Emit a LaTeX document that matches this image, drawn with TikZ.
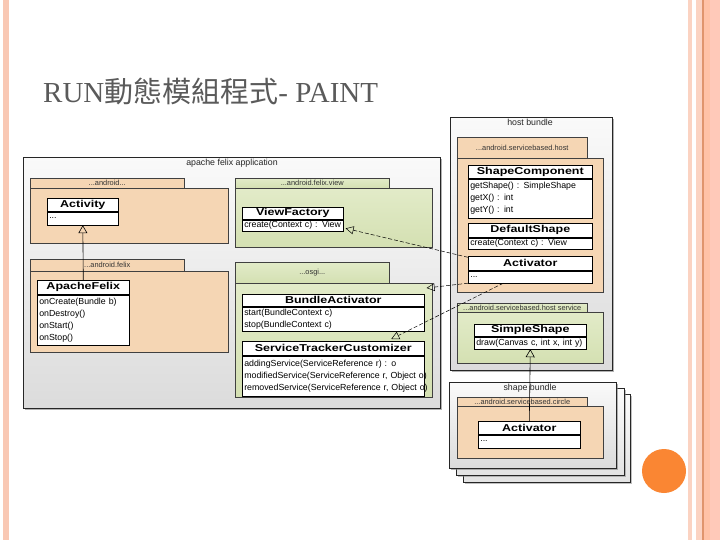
\documentclass[tikz,border=0pt]{standalone}
\usepackage{fontspec}
\setmainfont{Liberation Sans}
\newfontfamily\titlefont{Liberation Serif}
\newfontfamily\cjkfont{Noto Sans CJK TC}
\usetikzlibrary{arrows.meta,shadows,calc}
\definecolor{peach}{HTML}{F5D6B4}
\definecolor{sagetop}{HTML}{E2EBC8}
\definecolor{sagebot}{HTML}{D4E0B2}
\definecolor{titlegray}{HTML}{5A5A5A}
\definecolor{stripeA}{HTML}{F9C8B4}
\definecolor{stripeB}{HTML}{FBD3C2}
\definecolor{stripeC}{HTML}{FFC2A6}
\definecolor{stripeD}{HTML}{FFC9B9}
\definecolor{stripeLine}{HTML}{E0956C}
\definecolor{dotorange}{HTML}{FA8633}
\newcommand\cn[1]{\scalebox{1.25}[1]{\bfseries #1}}
\begin{document}
\begin{tikzpicture}[x=1pt,y=-1pt,
  grpbox/.style={draw=black!85, line width=0.6pt, top color=gray!4, bottom color=gray!28,
    anchor=north west, inner sep=0pt,
    drop shadow={shadow xshift=1.5pt, shadow yshift=-1.5pt, opacity=0.6}},
  stackbox/.style={draw=black!85, line width=0.6pt, top color=gray!3, bottom color=gray!22,
    anchor=north west, inner sep=0pt,
    drop shadow={shadow xshift=1.5pt, shadow yshift=-1.5pt, opacity=0.5}},
  opkg/.style={draw=black!75, line width=0.5pt, fill=peach, anchor=north west, inner sep=0pt,
    font=\fontsize{7.4}{7.4}\selectfont, text=black!80},
  gpkg/.style={draw=black!75, line width=0.5pt, top color=sagetop, bottom color=sagebot,
    anchor=north west, inner sep=0pt, font=\fontsize{7.4}{7.4}\selectfont, text=black!80},
  hdr/.style={draw=black, fill=white, line width=0.6pt, inner sep=0pt, anchor=north west,
    font=\fontsize{10}{10}\selectfont},
  bdy/.style={draw=black, fill=white, line width=0.6pt, inner xsep=2pt, inner ysep=0.5pt,
    anchor=north west, align=left, font=\fontsize{8.8}{12}\selectfont},
  lbl/.style={font=\fontsize{8.8}{8.8}\selectfont, text=black!85, inner sep=0pt},
  inh/.style={draw=black, line width=0.6pt, -{Triangle[open, length=8pt, width=9pt]}},
  real/.style={draw=black, line width=0.5pt, dash pattern=on 4pt off 2pt,
    -{Triangle[open, length=8pt, width=8pt]}}
]
\useasboundingbox (0,0) rectangle (720,540);
\fill[white] (0,0) rectangle (720,540);
% slide decoration
\fill[stripeA] (3,0) rectangle (9,540);
\fill[stripeB] (688,0) rectangle (692,540);
\fill[stripeB] (696,0) rectangle (702,540);
\fill[stripeLine] (702,0) rectangle (703.5,540);
\fill[stripeC] (703.5,0) rectangle (710,540);
\fill[stripeD] (710,0) rectangle (720,540);
\fill[dotorange] (664,471) circle (22);

% title
\node[anchor=base west, inner sep=0pt, text=titlegray] (title) at (43,103)
  {\fontsize{29}{29}\selectfont\titlefont RUN\cjkfont 動態模組程式\titlefont - PAINT};

% ===== apache felix application =====
\node[grpbox, minimum width=417pt, minimum height=251pt] (app) at (23,157) {};
\node[lbl] (appl) at (232,163) {apache felix application};

% ...android...
\node[opkg, minimum width=154pt, minimum height=10pt] (p1t) at (30,178) {...android...};
\node[opkg, minimum width=198pt, minimum height=55pt] (p1) at (30,188) {};
\node[hdr, minimum width=71pt, minimum height=13pt] (act) at (47,198) {\cn{Activity}};
\node[bdy, text width=67pt, minimum height=13pt] (actb) at (act.south west) {...};

% ...android.felix
\node[opkg, minimum width=154pt, minimum height=12pt] (p2t) at (30,259) {...android.felix};
\node[opkg, minimum width=198pt, minimum height=81pt] (p2) at (30,271) {};
\node[hdr, minimum width=92pt, minimum height=14pt] (af) at (37,280) {\cn{ApacheFelix}};
\node[bdy, text width=88pt, minimum height=50pt] (afb) at (af.south west)
  {onCreate(Bundle b)\\onDestroy()\\onStart()\\onStop()};

% ...android.felix.view
\node[gpkg, minimum width=154pt, minimum height=10pt] (p3t) at (235,178) {...android.felix.view};
\node[gpkg, minimum width=197pt, minimum height=59pt] (p3) at (235,188) {};
\node[hdr, minimum width=101pt, minimum height=12pt] (vf) at (242,207) {\cn{ViewFactory}};
\node[bdy, text width=97pt, minimum height=11pt] (vfb) at (vf.south west) {\mbox{create(Context c) : View}};

% ...osgi...
\node[gpkg, minimum width=154pt, minimum height=21pt] (p4t) at (235,262) {...osgi...};
\node[gpkg, minimum width=197pt, minimum height=114pt] (p4) at (235,283) {};
\node[hdr, minimum width=182pt, minimum height=12pt] (ba) at (242,294) {\cn{BundleActivator}};
\node[bdy, text width=178pt, minimum height=24pt] (bab) at (ba.south west)
  {start(BundleContext c)\\stop(BundleContext c)};
\node[hdr, minimum width=182pt, minimum height=14pt] (stc) at (242,341) {\cn{ServiceTrackerCustomizer}};
\node[bdy, text width=178pt, minimum height=40pt] (stcb) at (stc.south west)
  {\mbox{addingService(ServiceReference r) : o}\\\mbox{modifiedService(ServiceReference r, Object o)}\\\mbox{removedService(ServiceReference r, Object o)}};

% ===== host bundle =====
\node[grpbox, minimum width=162pt, minimum height=253pt] (host) at (450,117) {};
\node[lbl] (hostl) at (530,122) {host bundle};
\node[opkg, minimum width=130pt, minimum height=21pt] (p5t) at (457,137) {...android.servicebased.host};
\node[opkg, minimum width=146pt, minimum height=134pt] (p5) at (457,158) {};
\node[hdr, minimum width=124pt, minimum height=13pt] (sc) at (468,165) {\cn{ShapeComponent}};
\node[bdy, text width=120pt, minimum height=39pt] (scb) at (sc.south west)
  {getShape() : SimpleShape\\getX() : int\\getY() : int};
\node[hdr, minimum width=124pt, minimum height=14pt] (ds) at (468,223) {\cn{DefaultShape}};
\node[bdy, text width=120pt, minimum height=11pt] (dsb) at (ds.south west) {\mbox{create(Context c) : View}};
\node[hdr, minimum width=124pt, minimum height=14pt] (hact) at (468,256) {\cn{Activator}};
\node[bdy, text width=120pt, minimum height=12pt] (hactb) at (hact.south west) {...};
\node[gpkg, minimum width=130pt, minimum height=9pt] (p6t) at (457,303) {...android.servicebased.host service};
\node[gpkg, minimum width=146pt, minimum height=51pt] (p6) at (457,312) {};
\node[hdr, minimum width=112pt, minimum height=12pt] (ss) at (474,324) {\cn{SimpleShape}};
\node[bdy, text width=108pt, minimum height=12pt] (ssb) at (ss.south west) {\mbox{draw(Canvas c, int x, int y)}};

% ===== shape bundle (stacked) =====
\node[stackbox, minimum width=167pt, minimum height=88pt] (sb3) at (463,394) {};
\node[stackbox, minimum width=168pt, minimum height=87pt] (sb2) at (456,388) {};
\node[grpbox, minimum width=167pt, minimum height=86pt] (sb1) at (449,382) {};
\node[lbl] (sbl) at (530,388) {shape bundle};
\node[opkg, minimum width=130pt, minimum height=9pt] (p7t) at (457,397) {...android.servicebased.circle};
\node[opkg, minimum width=146pt, minimum height=52pt] (p7) at (457,406) {};
\node[hdr, minimum width=102pt, minimum height=13pt] (sact) at (478,421) {\cn{Activator}};
\node[bdy, text width=98pt, minimum height=13pt] (sactb) at (sact.south west) {...};

% ===== connectors =====
\draw[inh] (af.north) -- (actb.south);
\draw[inh] (sact.north) -- (ssb.south);
\draw[real] ([yshift=6pt]hact.west) -- ([shift={(2pt,-3pt)}]vfb.east);
\draw[real] (hactb.south west) -- ([shift={(2pt,6pt)}]ba.north east);
\draw[real] ([xshift=-27pt]hactb.south) -- ([shift={(58pt,2pt)}]stc.north);
\end{tikzpicture}
\end{document}
